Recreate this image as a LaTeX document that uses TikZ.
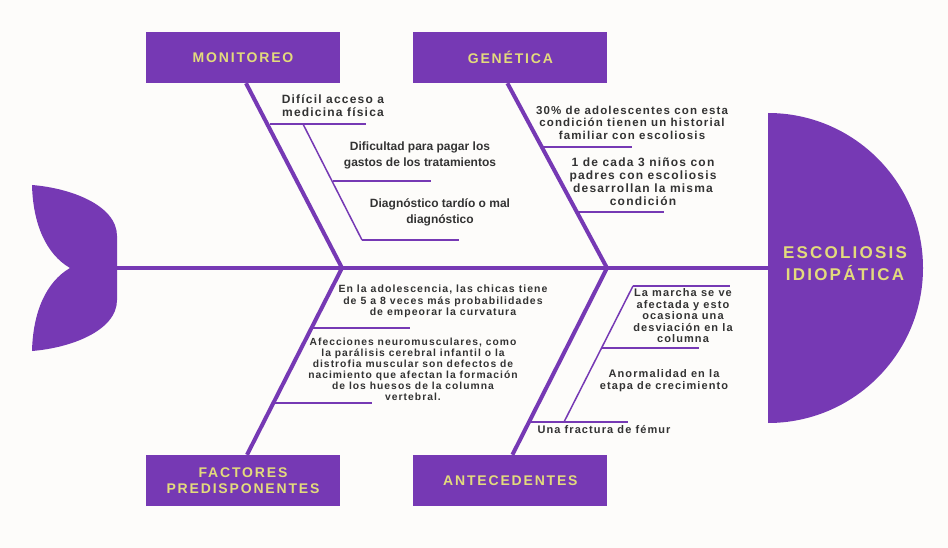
\documentclass[tikz,border=0pt]{standalone}
\usepackage{fontspec}
\setmainfont{Liberation Sans}
\newfontfamily\wide[LetterSpace=10]{Liberation Sans}
\newfontfamily\widecap[LetterSpace=13]{Liberation Sans}
\usetikzlibrary{positioning}
\definecolor{fishpurple}{RGB}{118,57,180}
\definecolor{fishyellow}{RGB}{227,219,124}
\definecolor{ink}{RGB}{51,51,51}
\definecolor{paper}{RGB}{253,252,250}

\begin{document}
\begin{tikzpicture}[x=1pt,y=-1pt,
    catbox/.style={fill=fishpurple, minimum width=194pt, minimum height=51pt, inner sep=0pt, text=fishyellow, align=center, font=\widecap\bfseries\fontsize{14}{16.5}\selectfont},
    bone/.style={draw=fishpurple, line width=4pt},
    twig/.style={draw=fishpurple, line width=1.5pt},
    cause/.style={text=ink, align=center, inner sep=0pt, font=\wide\bfseries\fontsize{11}{11.5}\selectfont},
    note/.style={text=ink, align=center, inner sep=0pt, font=\bfseries\fontsize{12}{16}\selectfont}]
        \fill[paper] (0,0) rectangle (948,548);
        \useasboundingbox (0,0) rectangle (948,548);

        \node[catbox] (monitoreo) at (243,57.5) {MONITOREO};
        \node[catbox, right=73pt of monitoreo] (genetica) {GENÉTICA};
        \node[catbox] (factores) at (243,480.5) {FACTORES\\PREDISPONENTES};
        \node[catbox, right=73pt of factores] (antecedentes) {ANTECEDENTES};

        \coordinate (tail) at (117,268);
        \coordinate (headedge) at (768,268);
        \coordinate (jleft) at (342,268);
        \coordinate (jright) at (607,268);

        \fill[fishpurple] (32,185) .. controls (70,188) and (117,205) .. (117,236) -- (117,300)
            .. controls (117,331) and (70,348) .. (32,351) .. controls (33,312) and (46,282) .. (70,268)
            .. controls (46,254) and (33,224) .. (32,185);
        \fill[fishpurple] (768,113) arc[start angle=90, end angle=-90, radius=155pt] -- cycle;
        \node[text=fishyellow, align=center, font=\widecap\bfseries\fontsize{17}{22}\selectfont] (head) at (845,264) {ESCOLIOSIS\\IDIOPÁTICA};

        \draw[bone] (tail) -- (headedge);
        \draw[bone] ([xshift=3pt]monitoreo.south) -- (jleft);
        \draw[bone] ([xshift=-3pt]genetica.south) -- (jright);
        \draw[bone] ([xshift=4pt]factores.north) -- (jleft);
        \draw[bone] ([xshift=2pt]antecedentes.north) -- (jright);

        \node[cause, font=\wide\bfseries\fontsize{12}{13}\selectfont] (acceso) at (333,105.5) {Difícil acceso a\\medicina física};
        \node[note] (pagar) at (420,155) {Dificultad para pagar los\\gastos de los tratamientos};
        \node[note] (tardio) at (440,212) {Diagnóstico tardío o mal\\diagnóstico};
        \draw[twig] (270,124) -- (366,124);
        \draw[twig] (303,124) -- (362,240);
        \draw[twig] (333,181) -- (431,181);
        \draw[twig] (362,240) -- (459,240);

        \node[cause, font=\wide\bfseries\fontsize{11.5}{12.5}\selectfont] (historial) at (632,122.5) {30\% de adolescentes con esta\\condición tienen un historial\\familiar con escoliosis};
        \node[cause, font=\wide\bfseries\fontsize{12}{13}\selectfont] (padres) at (643,181.5) {1 de cada 3 niños con\\padres con escoliosis\\desarrollan la misma\\condición};
        \draw[twig] (541,147) -- (632,147);
        \draw[twig] (575,212) -- (664,212);

        \node[cause, font=\wide\bfseries\fontsize{10.5}{11.5}\selectfont] (chicas) at (443,301.5) {En la adolescencia, las chicas tiene\\de 5 a 8 veces más probabilidades\\de empeorar la curvatura};
        \node[cause, font=\wide\bfseries\fontsize{10.3}{11}\selectfont] (afecciones) at (413,369.5) {Afecciones neuromusculares, como\\la parálisis cerebral infantil o la\\distrofia muscular son defectos de\\nacimiento que afectan la formación\\de los huesos de la columna\\vertebral.};
        \draw[twig] (312,328) -- (410,328);
        \draw[twig] (274,403) -- (372,403);

        \node[cause] (marcha) at (683,316) {La marcha se ve\\afectada y esto\\ocasiona una\\desviación en la\\columna};
        \node[cause] (anormalidad) at (664,380.5) {Anormalidad en la\\etapa de crecimiento};
        \node[cause] (fractura) at (604,430) {Una fractura de fémur};
        \draw[twig] (633,286) -- (564,422);
        \draw[twig] (633,286) -- (730,286);
        \draw[twig] (602,348) -- (699,348);
        \draw[twig] (530,422) -- (628,422);
    \end{tikzpicture}
\end{document}
